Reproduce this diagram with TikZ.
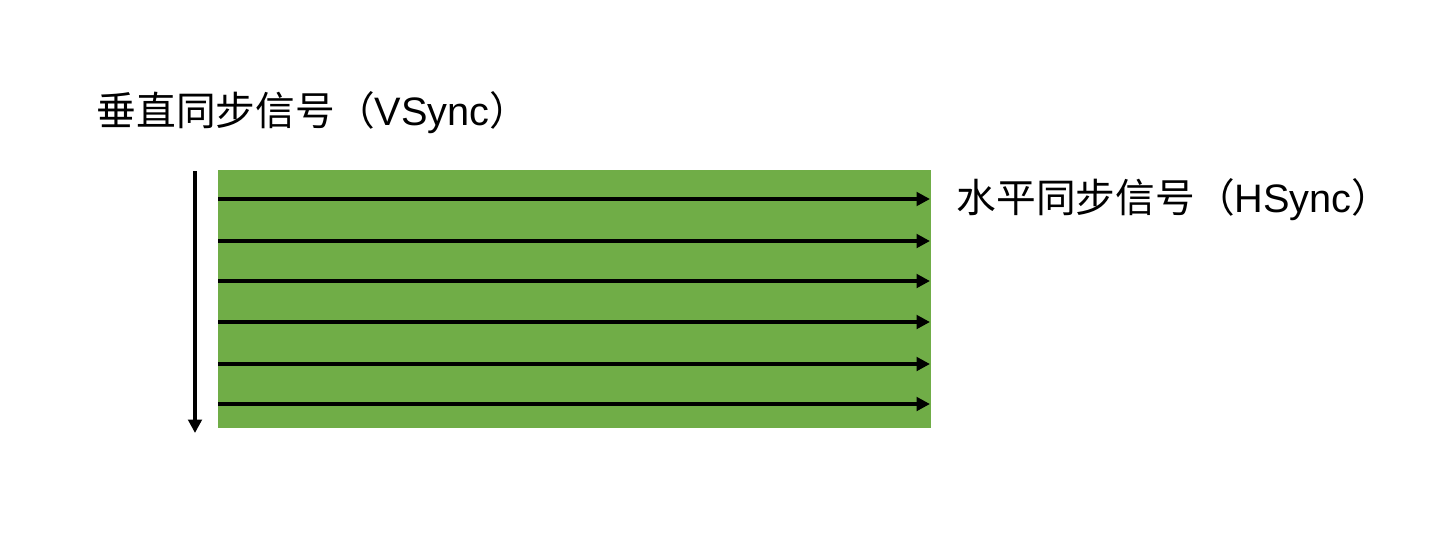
\documentclass[tikz,border=0pt]{standalone}
\usepackage{fontspec}
\setmainfont{Liberation Sans}
\newfontfamily\cjk{Noto Sans CJK SC}
\usetikzlibrary{positioning, arrows.meta}
\definecolor{screengreen}{HTML}{70AD47}

\begin{document}
\begin{tikzpicture}[line width=2pt,
		signal/.style={draw, -{Triangle[length=0.27cm,width=0.27cm]}},
		label/.style={inner sep=0, anchor=west, font=\fontsize{22.6}{27}\selectfont},
		screen/.style={fill=screengreen, draw=none, inner sep=0, minimum width=14.26cm, minimum height=5.16cm}]
		\useasboundingbox (0,0) rectangle (28.96,-10.96);
		\node[screen						] (SCREEN) 		at (11.49,-5.98) {};
		\node[label							] (VSYNC) 		at (1.90,-2.26) {{\cjk 垂直同步信号（}VSync{\cjk ）}};
		\node[label							] (HSYNC) 		at (19.10,-4.00) {{\cjk 水平同步信号（}HSync{\cjk ）}};

		\coordinate (V_TOP) at (3.90,-3.42);
		\coordinate (V_BOT) at (3.90,-8.66);
		\coordinate (ROW1_L) at (4.36,-3.98);	\coordinate (ROW1_R) at (18.60,-3.98);
		\coordinate (ROW2_L) at (4.36,-4.82);	\coordinate (ROW2_R) at (18.60,-4.82);
		\coordinate (ROW3_L) at (4.36,-5.62);	\coordinate (ROW3_R) at (18.60,-5.62);
		\coordinate (ROW4_L) at (4.36,-6.44);	\coordinate (ROW4_R) at (18.60,-6.44);
		\coordinate (ROW5_L) at (4.36,-7.28);	\coordinate (ROW5_R) at (18.60,-7.28);
		\coordinate (ROW6_L) at (4.36,-8.08);	\coordinate (ROW6_R) at (18.60,-8.08);

		\path	(V_TOP)		edge[signal]	(V_BOT)
				(ROW1_L)	edge[signal]	(ROW1_R)
				(ROW2_L)	edge[signal]	(ROW2_R)
				(ROW3_L)	edge[signal]	(ROW3_R)
				(ROW4_L)	edge[signal]	(ROW4_R)
				(ROW5_L)	edge[signal]	(ROW5_R)
				(ROW6_L)	edge[signal]	(ROW6_R)
				;

	\end{tikzpicture}
\end{document}
